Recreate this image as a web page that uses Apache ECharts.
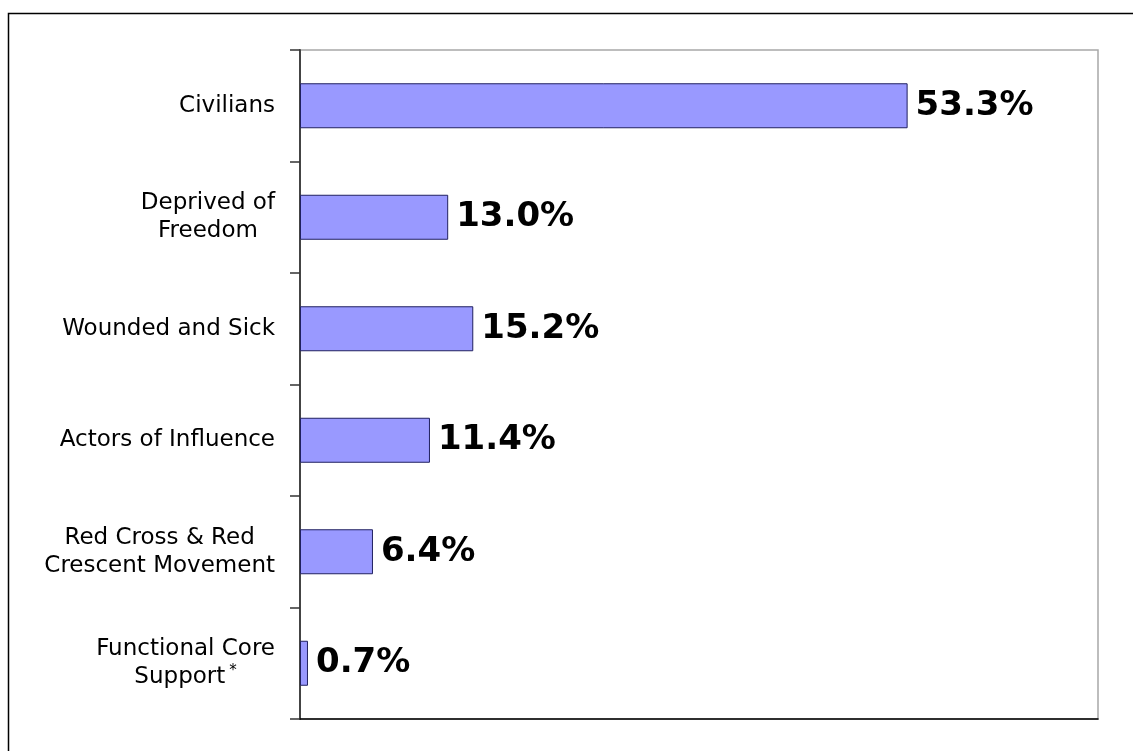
<!DOCTYPE html>
<html>
<head>
<meta charset="utf-8">
<style>
  html, body { margin: 0; padding: 0; background: #fff; }
  #chart { width: 1133px; height: 751px; }
</style>
<script src="https://cdn.jsdelivr.net/npm/echarts@6/dist/echarts.min.js"></script>
</head>
<body>
<div id="chart"></div>
<script>
const categories = [
  'Civilians',
  'Deprived of\nFreedom',
  'Wounded and Sick',
  'Actors of Influence',
  'Red Cross & Red\nCrescent Movement',
  'Functional Core\nSupport*'
];
const shares = [53.3, 13.0, 15.2, 11.4, 6.4, 0.7];
const axisMax = 70;

const chart = echarts.init(document.getElementById('chart'), null, { renderer: 'canvas' });

function catLabel(v) {
  return v.split('\n').map(function (line) {
    if (line.endsWith('*')) {
      return '{c|' + line.slice(0, -1) + '}{s|*}';
    }
    return '{c|' + line + '}';
  }).join('\n');
}

chart.setOption({
  animation: false,
  backgroundColor: '#ffffff',
  grid: {
    left: 300, right: 35, top: 50, bottom: 32,
    show: true, borderColor: '#a8a8a8', borderWidth: 1.5,
    containLabel: false
  },
  graphic: [{
    type: 'rect',
    shape: { x: 8.5, y: 13.5, width: 1200, height: 800 },
    style: { fill: 'none', stroke: '#000', lineWidth: 1.5 },
    silent: true, z: 0
  }],
  xAxis: {
    type: 'value', min: 0, max: axisMax,
    axisLine: { show: true, lineStyle: { color: '#000', width: 1.5 } },
    axisTick: { show: false },
    axisLabel: { show: false },
    splitLine: { show: false }
  },
  yAxis: {
    type: 'category', inverse: true, data: categories,
    axisLine: { show: true, lineStyle: { color: '#444', width: 2 } },
    axisTick: { show: true, inside: false, length: 10, alignWithLabel: false, lineStyle: { color: '#333', width: 1.5 } },
    axisLabel: {
      margin: 25,
      align: 'right',
      color: '#000',
      fontFamily: 'DejaVu Sans',
      fontSize: 23,
      lineHeight: 28,
      formatter: catLabel,
      rich: {
        c: { align: 'center', fontFamily: 'DejaVu Sans', fontSize: 23, lineHeight: 28, color: '#000' },
        s: { align: 'center', fontFamily: 'DejaVu Sans', fontSize: 15, lineHeight: 28, verticalAlign: 'top', padding: [0, 0, 0, 4], color: '#000' }
      }
    }
  },
  series: [{
    type: 'bar',
    data: shares,
    barWidth: 45,
    itemStyle: { color: '#9999ff', borderColor: '#202060', borderWidth: 1 },
    label: {
      show: true,
      position: 'right',
      distance: 8,
      color: '#000',
      fontFamily: 'DejaVu Sans',
      fontWeight: 'bold',
      fontSize: 34,
      formatter: function (p) { return p.value.toFixed(1) + '%'; }
    }
  }]
});
</script>
</body>
</html>
